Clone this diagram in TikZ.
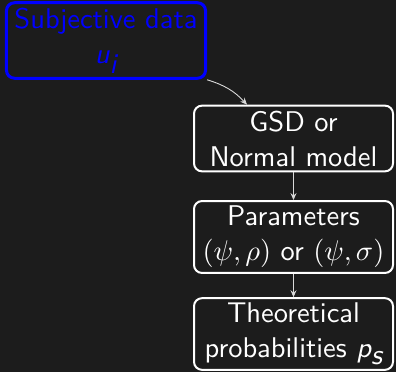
\documentclass[tikz,border=0pt]{standalone}
\usepackage[no-math]{fontspec}
\setsansfont{lmsans10-regular.otf}[ItalicFont=lmsans10-oblique.otf]
\usepackage{tikz}
\usepackage{xcolor}
\usetikzlibrary{arrows.meta}
% keep the 10pt design size when scaled up
\DeclareFontShape{OML}{cmm}{m}{it}{<->cmmi10}{}
\DeclareFontShape{OT1}{cmr}{m}{n}{<->cmr10}{}
\definecolor{bgdark}{HTML}{1C1C1C}
\newcommand{\sfit}[1]{\textsf{\itshape #1}}
\tikzstyle{databox} = [draw=blue,text=blue,line width=3pt,rectangle,
  rounded corners=8pt,align=center,inner xsep=8pt,inner ysep=5pt,
  font=\fontsize{28.5}{35}\selectfont\sffamily]
\tikzstyle{modelbox} = [draw=white,text=white,line width=2pt,rectangle,
  rounded corners=8pt,align=center,minimum width=199pt,inner xsep=6pt,
  inner ysep=5pt,font=\fontsize{28.5}{35}\selectfont\sffamily]
\tikzstyle{flowarrow} = [draw=white!85!black,line width=0.9pt,
  -{Stealth[length=7pt,width=6pt,inset=2.5pt]}]

\begin{document}
\begin{tikzpicture}[x=1pt,y=-1pt]
    \fill [bgdark] (0,0) rectangle (396,372);
    \useasboundingbox (0,0) rectangle (396,372);
    \node [databox] (data) at (106,40.5) {Subjective data\\ $\sfit{u}_{\sfit{i}}$};
    \node [modelbox] (model) at (293.5,138.5) {GSD or\\ Normal model};
    \node [modelbox] (params) at (293.5,237) {Parameters\\ $(\psi,\rho)$ or $(\psi,\sigma)$};
    \node [modelbox] (probs) at (293.5,334) {Theoretical\\ probabilities $\sfit{p}_{\sfit{s}}$};
    % connectors
    \draw [flowarrow] (data.south east) to[bend left=15] ([xshift=54pt]model.north west);
    \draw [flowarrow] (model) -- (params);
    \draw [flowarrow] (params) -- (probs);
  \end{tikzpicture}
\end{document}
